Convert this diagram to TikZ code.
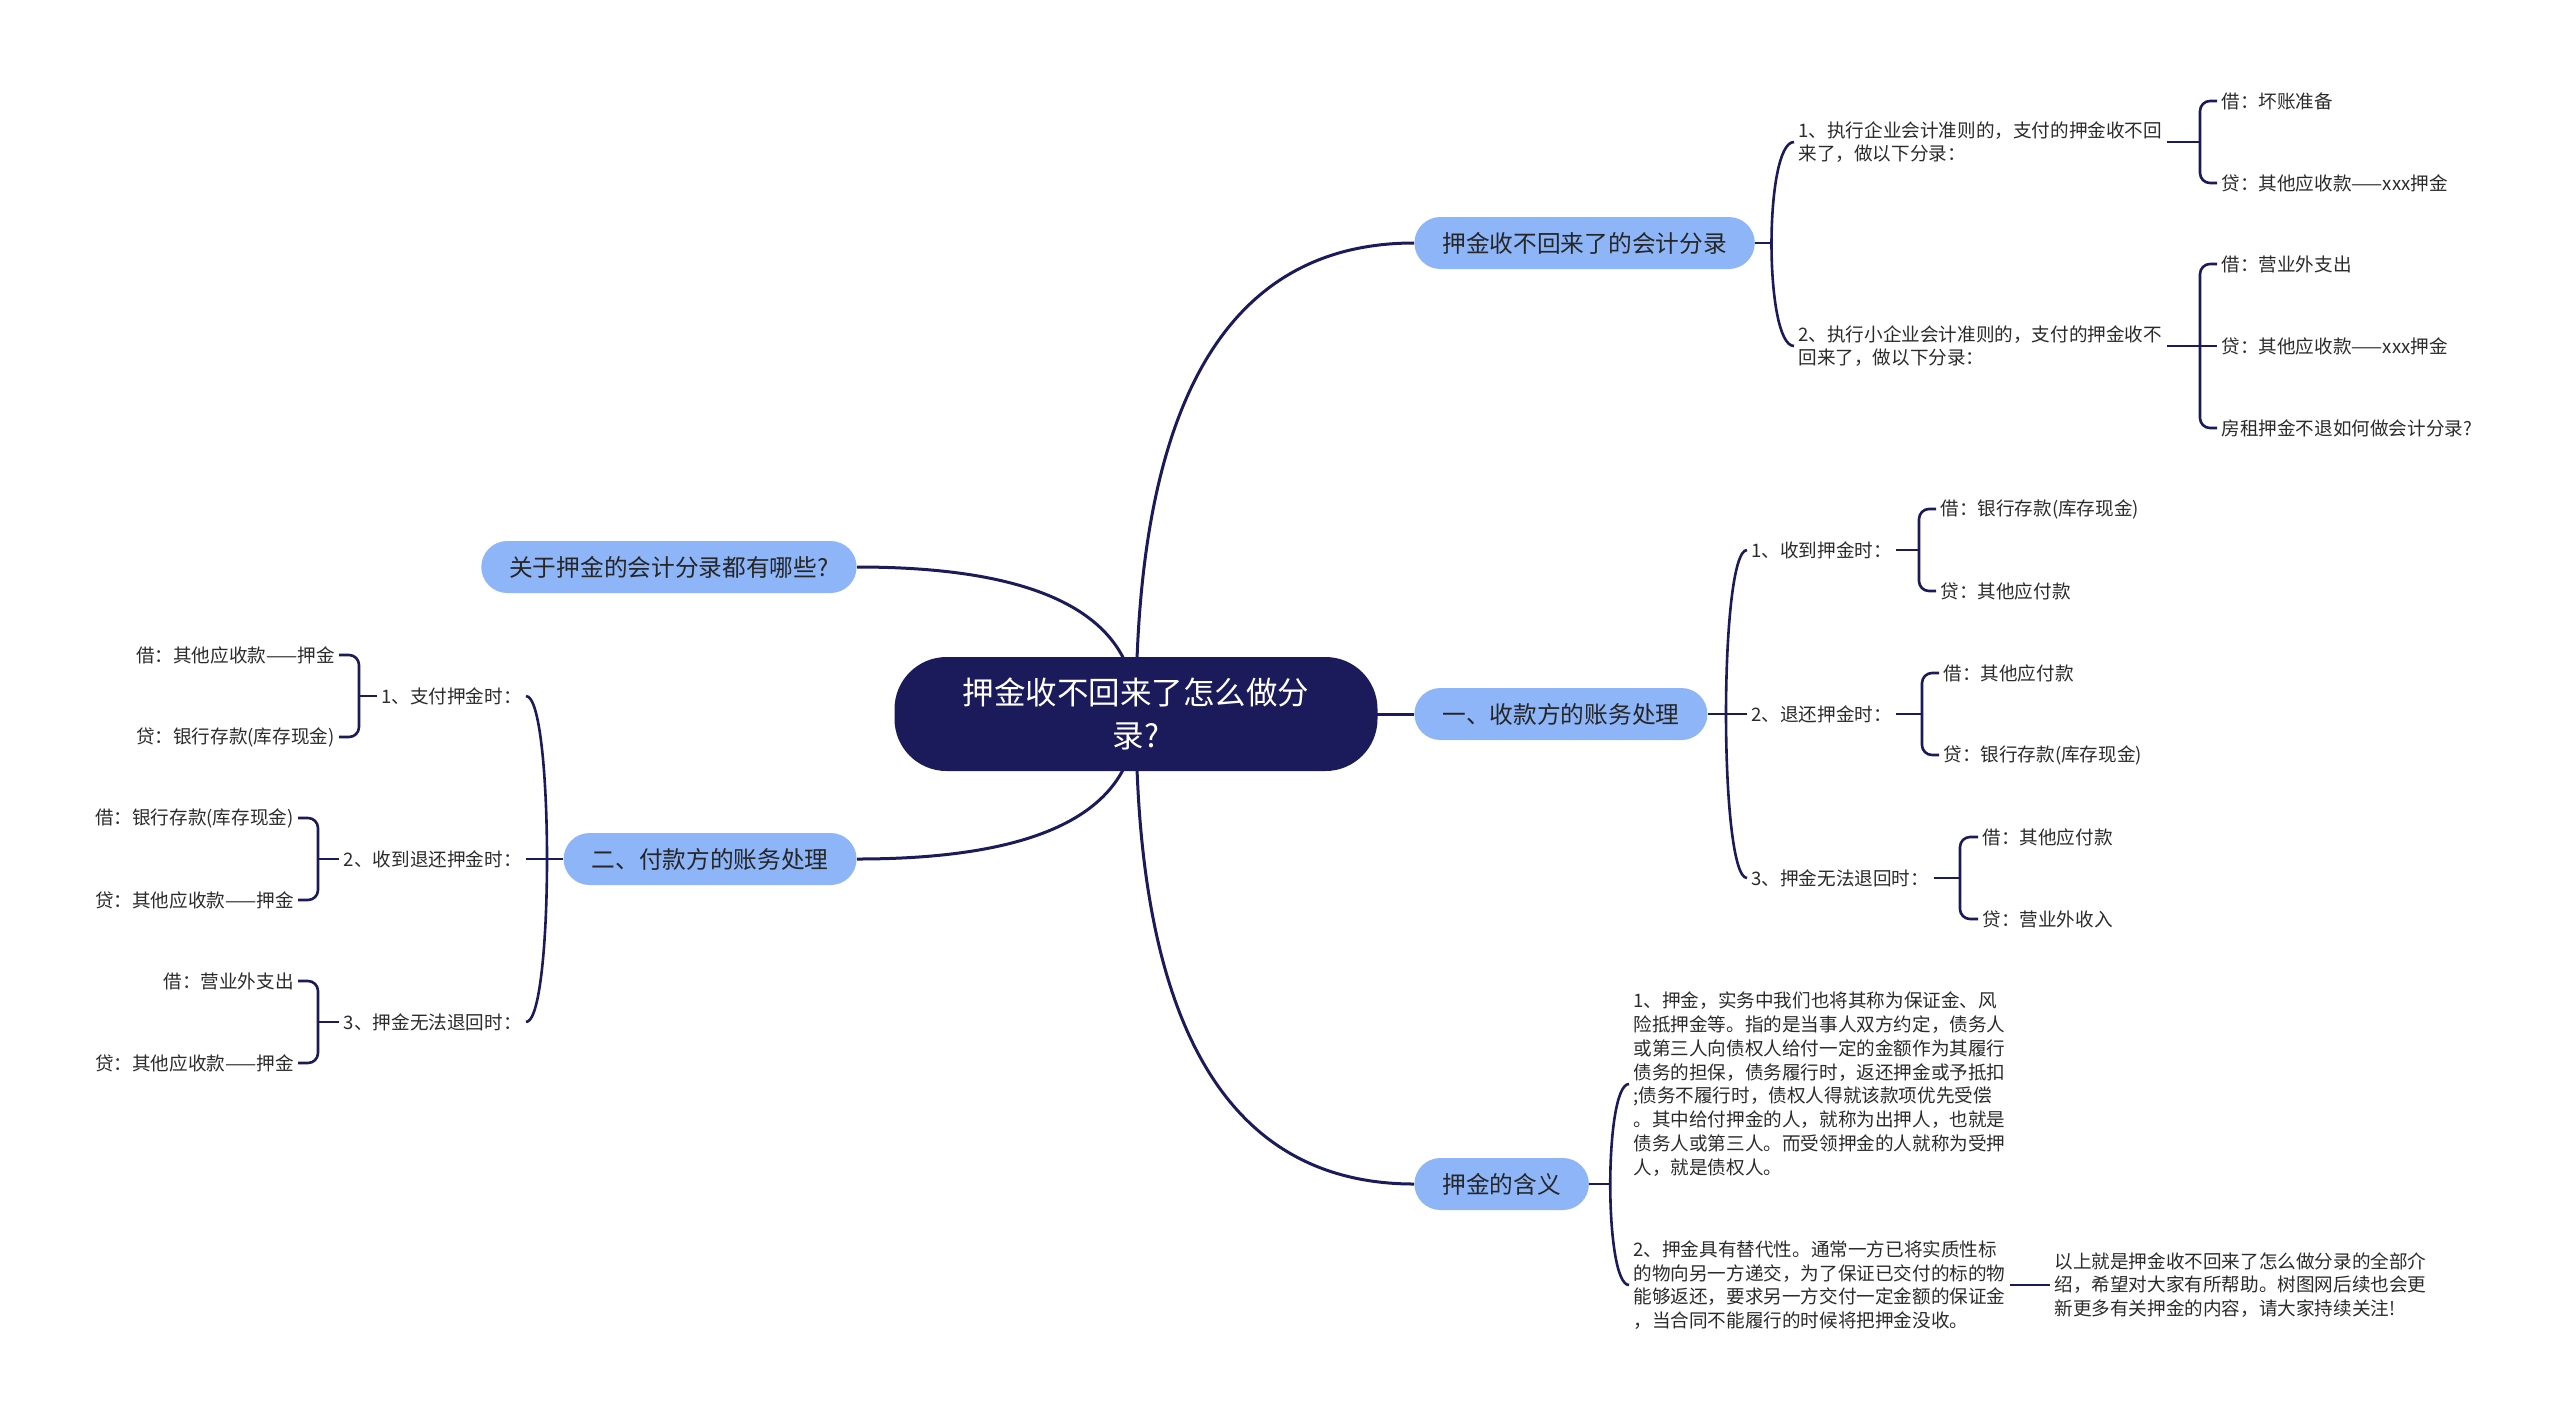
\documentclass[tikz,border=0pt]{standalone}
\usepackage{fontspec}
\setmainfont{Noto Sans CJK SC}
\usetikzlibrary{calc}
\pgfdeclarelayer{back}
\pgfsetlayers{back,main}
\definecolor{navy}{HTML}{1B1A5A}
\definecolor{topicblue}{HTML}{8DB5F8}
\definecolor{inkgray}{HTML}{2B2B2B}
\tikzset{
  root/.style={fill=navy, text=white, rounded corners=26pt, minimum width=241.5pt,
    minimum height=57pt, align=center, font=\fontsize{15.75}{21.5}\selectfont},
  topic/.style={fill=topicblue, text=black!85, rounded corners=13pt, minimum height=26pt,
    inner xsep=14pt, font=\fontsize{11.85}{14}\selectfont},
  leaf/.style={text=inkgray, inner sep=2pt, align=left, font=\fontsize{9.3}{11.9}\selectfont},
  link/.style={draw=navy, line width=1.5pt},
  brk/.style={draw=navy, line width=1.3pt},
  sq/.style={brk, rounded corners=5pt},
}
\begin{document}
\begin{tikzpicture}[x=0.5pt,y=-0.5pt]
\useasboundingbox (0,0) rectangle (2560,1421);

% root and main topics
\node[root] (root) at (1136,714) {押金收不回来了怎么做分\\录?};
\node[topic, anchor=west] (fail) at (1414,243) {押金收不回来了的会计分录};
\node[topic, anchor=west] (recv) at (1414,714) {一、收款方的账务处理};
\node[topic, anchor=west] (mean) at (1414,1184) {押金的含义};
\node[topic, anchor=east] (ask) at (857,567) {关于押金的会计分录都有哪些?};
\node[topic, anchor=east] (pay) at (857,859) {二、付款方的账务处理};

% bends of the root links
\coordinate (failbend) at (root.center |- fail.west);
\coordinate (meanbend) at (root.center |- mean.west);
\coordinate (askbend) at (root.center |- ask.east);
\coordinate (paybend) at (root.center |- pay.east);

\begin{pgfonlayer}{back}
\draw[link] (root.center) .. controls ($(root.center)!.667!(failbend)$) and ($(fail.west)!.667!(failbend)$) .. (fail.west);
\draw[link] (root.center) -- (recv.west);
\draw[link] (root.center) .. controls ($(root.center)!.667!(meanbend)$) and ($(mean.west)!.667!(meanbend)$) .. (mean.west);
\draw[link] (root.center) .. controls ($(root.center)!.667!(askbend)$) and ($(ask.east)!.667!(askbend)$) .. (ask.east);
\draw[link] (root.center) .. controls ($(root.center)!.667!(paybend)$) and ($(pay.east)!.667!(paybend)$) .. (pay.east);
\end{pgfonlayer}

% fail branch
\node[leaf, anchor=west] (fail1) at (1794,142) {1、执行企业会计准则的，支付的押金收不回\\来了，做以下分录：};
\node[leaf, anchor=west] (fail2) at (1794,346) {2、执行小企业会计准则的，支付的押金收不\\回来了，做以下分录：};
\node[leaf, anchor=west] (fail1a) at (2217,101) {借：坏账准备};
\node[leaf, anchor=west] (fail1b) at (2217,183) {贷：其他应收款——xxx押金};
\node[leaf, anchor=west] (fail2a) at (2217,264) {借：营业外支出};
\node[leaf, anchor=west] (fail2b) at (2217,346) {贷：其他应收款——xxx押金};
\node[leaf, anchor=west] (fail2c) at (2217,428) {房租押金不退如何做会计分录?};
\coordinate (failk) at (1772,243);
\coordinate (failc) at (1764,243);
\coordinate (fail1k) at (2200,142);
\coordinate (fail2k) at (2200,346);
\draw[brk] (fail) -- (failk);
\draw[brk] (fail1.west) .. controls (failc |- fail1.west) and (failc |- fail2.west) .. (fail2.west);
\draw[brk] (fail1) -- (fail1k);
\draw[sq] (fail1a.west) -| (fail1k) |- (fail1b.west);
\draw[brk] (fail2) -- (fail2b);
\draw[sq] (fail2a.west) -| (fail2k) |- (fail2c.west);

% recv branch
\node[leaf, anchor=west] (recv1) at (1747,550) {1、收到押金时：};
\node[leaf, anchor=west] (recv2) at (1747,714) {2、退还押金时：};
\node[leaf, anchor=west] (recv3) at (1747,878) {3、押金无法退回时：};
\node[leaf, anchor=west] (recv1a) at (1936,509) {借：银行存款(库存现金)};
\node[leaf, anchor=west] (recv1b) at (1936,591) {贷：其他应付款};
\node[leaf, anchor=west] (recv2a) at (1939,673) {借：其他应付款};
\node[leaf, anchor=west] (recv2b) at (1939,755) {贷：银行存款(库存现金)};
\node[leaf, anchor=west] (recv3a) at (1978,837) {借：其他应付款};
\node[leaf, anchor=west] (recv3b) at (1978,919) {贷：营业外收入};
\coordinate (recvc) at (1719,714);
\coordinate (recv1k) at (1919,550);
\coordinate (recv2k) at (1922,714);
\coordinate (recv3k) at (1960,878);
\draw[brk] (recv) -- (recv2);
\draw[brk] (recv1.west) .. controls (recvc |- recv1.west) and (recvc |- recv3.west) .. (recv3.west);
\draw[brk] (recv1) -- (recv1k);
\draw[sq] (recv1a.west) -| (recv1k) |- (recv1b.west);
\draw[brk] (recv2) -- (recv2k);
\draw[sq] (recv2a.west) -| (recv2k) |- (recv2b.west);
\draw[brk] (recv3) -- (recv3k);
\draw[sq] (recv3a.west) -| (recv3k) |- (recv3b.west);

% mean branch
\node[leaf, anchor=west] (mean1) at (1629,1084) {1、押金，实务中我们也将其称为保证金、风\\险抵押金等。指的是当事人双方约定，债务人\\或第三人向债权人给付一定的金额作为其履行\\债务的担保，债务履行时，返还押金或予抵扣\\;债务不履行时，债权人得就该款项优先受偿\\。其中给付押金的人，就称为出押人，也就是\\债务人或第三人。而受领押金的人就称为受押\\人，就是债权人。};
\node[leaf, anchor=west] (mean2) at (1629,1285) {2、押金具有替代性。通常一方已将实质性标\\的物向另一方递交，为了保证已交付的标的物\\能够返还，要求另一方交付一定金额的保证金\\，当合同不能履行的时候将把押金没收。};
\node[leaf, anchor=west] (sum) at (2050,1285) {以上就是押金收不回来了怎么做分录的全部介\\绍，希望对大家有所帮助。树图网后续也会更\\新更多有关押金的内容，请大家持续关注!};
\coordinate (meank) at (1610,1184);
\coordinate (meanc) at (1604,1184);
\draw[brk] (mean) -- (meank);
\draw[brk] (mean1.west) .. controls (meanc |- mean1.west) and (meanc |- mean2.west) .. (mean2.west);
\draw[brk] (mean2) -- (sum);

% pay branch
\node[leaf, anchor=east] (pay1) at (526,696) {1、支付押金时：};
\node[leaf, anchor=east] (pay2) at (526,859) {2、收到退还押金时：};
\node[leaf, anchor=east] (pay3) at (526,1022) {3、押金无法退回时：};
\node[leaf, anchor=east] (pay1a) at (339,655) {借：其他应收款——押金};
\node[leaf, anchor=east] (pay1b) at (339,737) {贷：银行存款(库存现金)};
\node[leaf, anchor=east] (pay2a) at (298,818) {借：银行存款(库存现金)};
\node[leaf, anchor=east] (pay2b) at (298,900) {贷：其他应收款——押金};
\node[leaf, anchor=east] (pay3a) at (298,981) {借：营业外支出};
\node[leaf, anchor=east] (pay3b) at (298,1063) {贷：其他应收款——押金};
\coordinate (payc) at (554,859);
\coordinate (pay1k) at (359,696);
\coordinate (pay2k) at (318,859);
\coordinate (pay3k) at (318,1022);
\draw[brk] (pay) -- (pay2);
\draw[brk] (pay1.east) .. controls (payc |- pay1.east) and (payc |- pay3.east) .. (pay3.east);
\draw[brk] (pay1) -- (pay1k);
\draw[sq] (pay1a.east) -| (pay1k) |- (pay1b.east);
\draw[brk] (pay2) -- (pay2k);
\draw[sq] (pay2a.east) -| (pay2k) |- (pay2b.east);
\draw[brk] (pay3) -- (pay3k);
\draw[sq] (pay3a.east) -| (pay3k) |- (pay3b.east);
\end{tikzpicture}
\end{document}
